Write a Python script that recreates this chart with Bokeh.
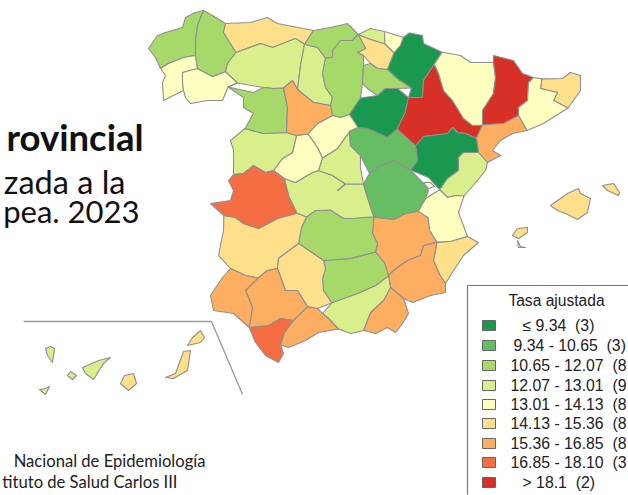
from bokeh.plotting import figure
from bokeh.models import Range1d, ColumnDataSource
from bokeh.core.properties import value
from bokeh.embed import file_html
from bokeh.resources import INLINE

# class colours (legend order)
CLASS_COLORS = ["#1a9850", "#66bd63", "#a6d96a", "#d9ef8b", "#ffffbf", "#fee08b", "#fdae61", "#f46d43", "#d73027"]
LEGEND_TITLE = "Tasa ajustada"
NB = "\u00a0\u00a0"
LEGEND_LABELS = ["≤ 9.34" + NB + "(3)", "9.34 - 10.65" + NB + "(3)", "10.65 - 12.07" + NB + "(8", "12.07 - 13.01" + NB + "(9", "13.01 - 14.13" + NB + "(8",
                 "14.13 - 15.36" + NB + "(8", "15.36 - 16.85" + NB + "(8", "16.85 - 18.10" + NB + "(3", "> 18.1" + NB + "(2)"]

# province outlines, map units, with the class of each
CORUNA = [(203,10),(197,25),(195,40),(195,55),(183,57),(168,63),(160,68),(155,57),(148,48),(157,35),(165,32),(182,27),(185,17),(195,12)]
PONTEVEDRA = [(160,68),(168,63),(183,57),(195,55),(197,68),(182,72),(182,82),(183,90),(163,100),(162,82),(165,75)]
OURENSE = [(182,72),(197,68),(212,76),(228,70),(237,80),(227,88),(222,100),(207,100),(190,103),(185,97),(183,90),(182,82)]
LUGO = [(203,10),(212,15),(227,23),(223,32),(230,43),(233,52),(227,63),(222,72),(212,76),(197,68),(195,55),(195,40),(197,25)]
ASTURIAS = [(223,23),(250,22),(267,17),(277,23),(313,30),(303,37),(295,38),(272,47),(260,43),(238,52),(233,52),(230,43),(223,32)]
LEON = [(233,52),(238,52),(260,43),(272,47),(295,38),(303,37),(305,43),(303,48),(300,65),(297,88),(292,80),(283,85),(283,90),(263,87),(237,85),(227,88),(237,80),(228,70),(222,72),(227,63)]
PALENCIA = [(305,47),(317,47),(325,58),(322,73),(325,87),(332,97),(328,103),(313,102),(297,90),(300,65),(303,48)]
CANTABRIA = [(313,30),(330,27),(347,23),(360,32),(353,33),(352,40),(340,40),(332,50),(332,57),(325,57),(317,47),(305,43),(303,37)]
BIZKAIA = [(358,33),(370,28),(383,30),(387,42),(382,45),(367,38),(360,38)]
GIPUZKOA = [(385,32),(408,30),(403,37),(392,50),(382,45),(387,42)]
ALAVA = [(360,38),(367,38),(382,45),(392,50),(388,65),(385,72),(377,68),(370,63),(363,55),(357,52),(365,48)]
BURGOS = [(340,40),(352,40),(360,38),(365,48),(357,52),(363,55),(363,65),(362,83),(360,97),(348,113),(340,117),(332,107),(328,103),(332,97),(325,87),(322,73),(325,58),(332,57),(332,50)]
RIOJA = [(363,65),(377,68),(385,72),(397,80),(410,88),(397,88),(385,88),(377,95),(367,88),(362,83)]
NAVARRA = [(410,35),(422,35),(423,43),(443,50),(435,63),(428,67),(423,80),(422,97),(413,95),(405,98),(412,87),(398,77),(388,70),(395,55),(400,45)]
SORIA = [(348,113),(360,98),(377,95),(385,88),(397,88),(407,98),(405,113),(397,125),(398,133),(387,137),(367,128),(358,127)]
ZARAGOZA = [(433,63),(439,62),(438,73),(443,90),(452,100),(463,118),(480,123),(482,128),(475,137),(465,133),(452,127),(447,133),(423,135),(415,143),(395,128),(402,117),(407,107),(407,97),(422,97),(423,80),(428,67)]
HUESCA = [(439,53),(443,52),(460,55),(470,62),(493,62),(495,77),(493,93),(482,110),(483,120),(472,125),(463,118),(452,100),(443,90),(438,73),(439,62)]
LLEIDA = [(493,55),(513,60),(522,73),(533,77),(528,82),(527,100),(518,107),(518,115),(503,123),(483,127),(482,110),(493,93),(495,77),(493,62)]
GIRONA = [(543,75),(562,78),(570,72),(580,75),(580,90),(570,107),(553,100),(557,92),(540,88),(541,80)]
BARCELONA = [(528,82),(540,80),(540,88),(557,92),(553,100),(565,108),(543,123),(528,132),(518,115),(518,107),(527,100)]
TARRAGONA = [(518,115),(525,128),(512,133),(500,140),(492,150),(500,155),(487,162),(478,152),(478,137),(483,127),(503,123)]
TERUEL = [(452,127),(457,132),(472,137),(478,140),(478,152),(463,152),(458,157),(458,170),(447,178),(440,187),(428,177),(410,167),(417,157),(417,145),(423,137),(447,133)]
CASTELLON = [(478,152),(487,162),(485,170),(477,180),(465,193),(462,198),(455,195),(447,197),(440,190),(447,178),(458,170),(458,157),(463,152)]
VALENCIA = [(437,188),(440,192),(447,197),(455,195),(462,198),(458,212),(467,235),(450,242),(438,240),(437,235),(428,230),(427,218),(418,210),(425,198)]
ADEMUZ = [(423,182),(430,182),(434,186),(428,188)]
ALICANTE = [(450,240),(467,237),(478,242),(463,255),(453,270),(445,283),(440,275),(433,260),(435,247),(443,242)]
MURCIA = [(423,245),(432,243),(438,243),(433,260),(438,273),(445,292),(430,295),(412,302),(403,298),(392,278),(393,270),(407,260),(420,255)]
ALBACETE = [(375,218),(393,220),(417,215),(428,217),(430,230),(438,242),(430,243),(423,245),(420,255),(407,260),(393,270),(387,275),(382,267),(385,257),(375,250),(377,243),(372,233)]
ALMERIA = [(392,278),(403,298),(408,313),(402,323),(395,332),(387,327),(375,333),(363,330),(370,312),(383,300),(390,287)]
GRANADA = [(385,273),(392,278),(390,287),(383,300),(370,312),(363,330),(350,333),(338,328),(322,313),(328,302),(333,302),(357,293),(375,285)]
JAEN = [(323,260),(350,258),(375,253),(385,263),(385,273),(375,285),(357,293),(333,303),(323,290),(322,278),(325,268)]
CIUDAD_REAL = [(307,218),(317,212),(330,212),(343,218),(360,210),(375,218),(372,233),(377,243),(375,253),(350,258),(323,260),(298,243),(302,227)]
TOLEDO = [(285,182),(295,182),(310,173),(332,175),(343,182),(347,185),(337,190),(363,182),(368,200),(373,218),(350,218),(330,207),(313,208),(305,215),(298,210),(288,195)]
MADRID = [(350,135),(360,168),(363,182),(337,190),(347,185),(332,175),(318,170),(323,155),(337,148)]
SEGOVIA = [(307,135),(332,115),(350,115),(357,127),(347,130),(350,135),(337,148),(323,155),(317,147)]
AVILA = [(295,135),(307,135),(317,147),(321,160),(318,170),(310,173),(295,182),(283,175),(273,170),(282,158),(292,152)]
SALAMANCA = [(242,128),(262,133),(285,132),(295,135),(292,152),(282,158),(273,170),(265,172),(253,165),(243,173),(233,173),(233,150),(230,140)]
ZAMORA = [(228,85),(253,92),(273,88),(283,90),(287,107),(285,132),(263,133),(247,128),(253,113),(243,107),(243,97)]
VALLADOLID = [(283,85),(292,80),(297,90),(313,102),(328,103),(332,115),(317,123),(308,132),(297,135),(287,132),(287,107)]
CACERES = [(233,175),(243,173),(253,165),(265,172),(273,170),(283,177),(285,195),(292,198),(298,213),(277,218),(258,228),(243,223),(227,213),(220,217),(210,203),(230,200),(233,190),(228,180)]
BADAJOZ = [(223,215),(235,217),(258,228),(293,215),(305,215),(300,227),(298,243),(278,258),(277,268),(258,277),(230,268),(218,255),(223,230)]
CORDOBA = [(298,243),(323,260),(325,268),(322,278),(323,290),(328,302),(317,308),(305,302),(297,290),(285,290),(277,268),(278,258)]
SEVILLA = [(277,268),(285,290),(297,290),(308,307),(293,318),(280,318),(268,325),(250,325),(252,307),(245,290),(257,278),(267,270)]
HUELVA = [(230,268),(245,275),(257,278),(245,290),(252,307),(250,323),(233,313),(213,310),(210,295),(222,277)]
CADIZ = [(248,327),(268,325),(280,318),(293,322),(282,335),(280,347),(283,353),(278,362),(265,355),(255,342),(247,333)]
MALAGA = [(293,320),(308,310),(317,308),(328,318),(338,329),(318,332),(305,340),(288,347),(280,342),(285,330)]
GUADALAJARA = [(350,128),(367,128),(387,137),(398,133),(413,148),(417,163),(410,172),(393,160),(380,165),(368,173),(360,155),(350,145)]
CUENCA = [(370,173),(380,165),(393,160),(410,172),(422,182),(428,190),(418,207),(405,213),(393,218),(372,213),(363,185)]
MALLORCA = [(550,205),(567,193),(578,188),(580,193),(590,198),(587,212),(577,219),(565,213),(557,210)]
MENORCA = [(602,185),(613,183),(619,192),(618,195),(607,190)]
IBIZA = [(512,235),(517,228),(527,227),(527,232),(518,238)]
FORMENTERA = [(517,240),(520,246),(525,247),(518,247)]
LA_PALMA = [(45,348),(50,346),(54,348),(52,362),(47,355)]
GOMERA = [(67,375),(70,371),(76,375),(72,379)]
HIERRO = [(39,389),(45,388),(49,386),(45,394)]
TENERIFE = [(82,367),(98,360),(110,357),(103,363),(93,379),(85,373)]
GRAN_CANARIA = [(120,383),(124,375),(133,373),(136,383),(128,390)]
FUERTEVENTURA = [(165,377),(175,373),(183,351),(190,350),(187,370),(173,378)]
LANZAROTE = [(187,345),(192,337),(200,330),(204,337),(200,342)]

MAINLAND = [
    (CORUNA,2),(PONTEVEDRA,4),(OURENSE,4),(LUGO,2),(ASTURIAS,5),(LEON,3),(PALENCIA,3),(CANTABRIA,2),(BIZKAIA,3),(GIPUZKOA,4),
    (ALAVA,5),(BURGOS,2),(RIOJA,2),(NAVARRA,0),(SORIA,0),(ZARAGOZA,8),(HUESCA,4),(LLEIDA,8),(GIRONA,5),(BARCELONA,4),
    (TARRAGONA,6),(TERUEL,0),(CASTELLON,3),(VALENCIA,4),(ALICANTE,5),(ALBACETE,6),(MURCIA,6),(ALMERIA,6),(GRANADA,3),(JAEN,2),
    (CIUDAD_REAL,2),(TOLEDO,3),(MADRID,3),(SEGOVIA,4),(AVILA,4),(SALAMANCA,3),(ZAMORA,2),(VALLADOLID,6),(BADAJOZ,5),(CACERES,7),
    (CORDOBA,5),(SEVILLA,6),(HUELVA,6),(MALAGA,6),(CADIZ,7),(GUADALAJARA,1),(CUENCA,1),
]
ISLANDS = [
    (ADEMUZ,4),(MALLORCA,5),(MENORCA,5),(IBIZA,5),(FORMENTERA,5),(LA_PALMA,3),(GOMERA,3),(HIERRO,3),(TENERIFE,3),
    (GRAN_CANARIA,5),(FUERTEVENTURA,5),(LANZAROTE,5),
]

INSET_X = [23, 211, 242]
INSET_Y = [321, 321, 394]

TITLE_LINES = ["rovincial", "zada a la", "pea. 2023"]
SOURCE_LINES = ["Nacional de Epidemiología", "tituto de Salud Carlos III"]


def weld(shapes, vtol=6.5, etol=5.0):
    """Make neighbouring outlines, traced one by one, share their vertices and edges."""
    pts = sorted({c for s in shapes for c in s})
    parent = {c: c for c in pts}
    def find(a):
        while parent[a] != a:
            parent[a] = parent[parent[a]]
            a = parent[a]
        return a
    for i, a in enumerate(pts):
        for b in pts[i + 1:]:
            if (a[0] - b[0]) ** 2 + (a[1] - b[1]) ** 2 <= vtol ** 2:
                parent[find(a)] = find(b)
    groups = {}
    for c in pts:
        groups.setdefault(find(c), []).append(c)
    where = {}
    for g in groups.values():
        m = (sum(c[0] for c in g) / len(g), sum(c[1] for c in g) / len(g))
        for c in g:
            where[c] = m
    out = []
    for s in shapes:
        r = []
        for c in s:
            m = where[c]
            if not r or r[-1] != m:
                r.append(m)
        if r[0] == r[-1]:
            r.pop()
        out.append(r)
    nodes = sorted(set(where.values()))
    final = []
    for s in out:
        r = []
        for i, a in enumerate(s):
            b = s[(i + 1) % len(s)]
            r.append(a)
            dx, dy = b[0] - a[0], b[1] - a[1]
            d2 = dx * dx + dy * dy
            if d2 == 0:
                continue
            extra = []
            for n in nodes:
                t = ((n[0] - a[0]) * dx + (n[1] - a[1]) * dy) / d2
                if 0.02 < t < 0.98:
                    qx, qy = a[0] + t * dx, a[1] + t * dy
                    if (n[0] - qx) ** 2 + (n[1] - qy) ** 2 <= etol ** 2:
                        extra.append((t, n))
            r.extend(n for _, n in sorted(extra))
        final.append(r)
    return final


p = figure(width=628, height=495, x_range=Range1d(0, 628), y_range=Range1d(495, 0), output_backend="svg",
           toolbar_location=None, min_border=0, outline_line_color=None,
           background_fill_color="white", border_fill_color="white")
p.axis.visible = False
p.grid.visible = False
p.styles = {"position": "absolute", "left": "0px", "top": "0px"}

welded = weld([s for s, _ in MAINLAND])
shapes = welded + [s for s, _ in ISLANDS]
classes = [k for _, k in MAINLAND] + [k for _, k in ISLANDS]
src = ColumnDataSource(dict(
    xs=[[c[0] for c in s] for s in shapes],
    ys=[[c[1] for c in s] for s in shapes],
    color=[CLASS_COLORS[k] for k in classes],
))
p.patches("xs", "ys", source=src, fill_color="color", line_color="#8f8f8f", line_width=1.1, line_join="round")
p.line(INSET_X, INSET_Y, line_color="#9a9a9a", line_width=1.3)

font = value("Lato")
p.text([143], [158], text=[TITLE_LINES[0]], text_font=font, text_font_style="bold", text_font_size="36.5px",
       text_align="right", text_color="#111111")
p.text([125], [200], text=[TITLE_LINES[1]], text_font=font, text_font_size="32.5px",
       text_align="right", text_color="#111111")
p.text([139], [229], text=[TITLE_LINES[2]], text_font=font, text_font_size="31px",
       text_align="right", text_color="#111111")
p.text([205, 177], [470, 491], text=SOURCE_LINES, text_font=font, text_font_size="16.6px",
       text_align="right", text_color="#222222")

# legend
p.line([628, 467, 467], [285, 285, 494], line_color="#777777", line_width=1.2)
p.text([556], [300], text=[LEGEND_TITLE], text_font=value("Liberation Sans"), text_font_size="15.6px",
       text_align="center", text_baseline="middle", text_color="#222222")
row_y = [325, 345, 365, 385, 404, 423, 443, 462, 482]
row_x = [522, 513, 510, 510, 510, 510, 510, 510, 522]
p.rect([488.5] * 9, row_y, width=13, height=10, fill_color=CLASS_COLORS, line_color="#666666", line_width=1)
p.text(row_x, row_y, text=LEGEND_LABELS, text_font=value("Liberation Sans"), text_font_size="15.8px",
       text_baseline="middle", text_color="#222222")

open("out.html", "w").write(file_html(p, INLINE))
